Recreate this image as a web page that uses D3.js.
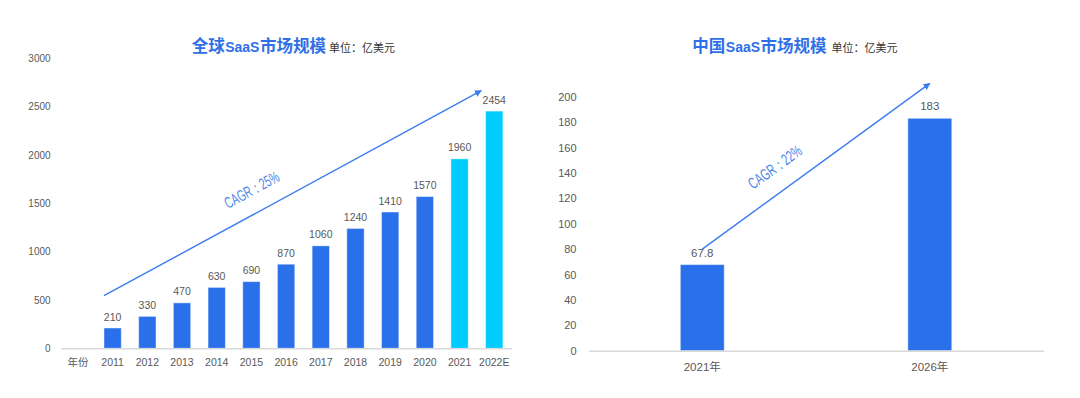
<!DOCTYPE html>
<html>
<head>
<meta charset="utf-8">
<script src="https://cdn.jsdelivr.net/npm/d3@7"></script>
<style>
  body { margin: 0; background: #fff; }
  svg { display: block; }
  .tick text { fill: #595959; }
</style>
</head>
<body>
<div id="chart-area"></div>
<script>
// global market (亿美元)
var globalCats = ["年份", "2011", "2012", "2013", "2014", "2015", "2016", "2017", "2018", "2019", "2020", "2021", "2022E"];
var globalYears = ["2011", "2012", "2013", "2014", "2015", "2016", "2017", "2018", "2019", "2020", "2021", "2022E"];
var globalValues = [210, 330, 470, 630, 690, 870, 1060, 1240, 1410, 1570, 1960, 2454];
var globalHighlight = ["2021", "2022E"];
var globalTicks = [0, 500, 1000, 1500, 2000, 2500, 3000];
var globalCagr = {label: "CAGR：25%", from: ["2011", 0, 544], to: ["2022E", -0.25, 2665]};

// china market (亿美元)
var chinaCats = ["2021年", "2026年"];
var chinaValues = [67.8, 183];
var chinaLabels = ["67.8", "183"];
var chinaTicks = [0, 20, 40, 60, 80, 100, 120, 140, 160, 180, 200];
var chinaCagr = {label: "CAGR：22%", from: ["2021年", 0.5, 80], to: ["2026年", 0.5, 210.5]};

var blue = "#2a70ea", cyan = "#00ccff", titleBlue = "#2f6fe8", arrowBlue = "#3b7cf0";
var numFont = "'Liberation Sans', 'Noto Sans CJK SC', sans-serif";
var cjkFont = "'Noto Sans CJK SC', sans-serif";

var svg = d3.select("#chart-area")
    .append("svg")
    .attr("width", 1080)
    .attr("height", 398);

var defs = svg.append("defs");
defs.append("marker")
    .attr("id", "arrow")
    .attr("viewBox", "0 0 10 10")
    .attr("refX", 9)
    .attr("refY", 5)
    .attr("markerWidth", 7)
    .attr("markerHeight", 7)
    .attr("markerUnits", "userSpaceOnUse")
    .attr("orient", "auto")
    .append("path")
    .attr("d", "M0,0L10,5L0,10Z")
    .attr("fill", arrowBlue);

// title pieces are laid out one after another
function drawTitle(x, y, parts) {
    var g = svg.append("g");
    var cx = x;
    parts.forEach(function(p) {
        var t = g.append("text")
            .attr("x", cx + (p.gap || 0))
            .attr("y", y)
            .style("font-family", p.font || cjkFont)
            .style("font-size", p.size + "px")
            .style("font-weight", p.bold ? 700 : 400)
            .attr("fill", p.color)
            .text(p.text);
        cx += (p.gap || 0) + t.node().getComputedTextLength();
    });
}

function drawCagr(x, y, c, offset) {
    var x1 = x(c.from[0]) + c.from[1] * x.bandwidth(), y1 = y(c.from[2]);
    var x2 = x(c.to[0]) + c.to[1] * x.bandwidth(), y2 = y(c.to[2]);
    svg.append("line")
        .attr("x1", x1).attr("y1", y1)
        .attr("x2", x2).attr("y2", y2)
        .attr("stroke", arrowBlue)
        .attr("stroke-width", 1.4)
        .attr("marker-end", "url(#arrow)");
    var ang = Math.atan2(y2 - y1, x2 - x1) * 180 / Math.PI;
    var mx = x1 + (x2 - x1) * offset.t, my = y1 + (y2 - y1) * offset.t;
    svg.append("g")
        .attr("transform", "translate(" + mx + "," + my + ") rotate(" + ang + ")")
        .append("text")
        .attr("y", -offset.d)
        .attr("text-anchor", "middle")
        .attr("textLength", offset.len)
        .attr("lengthAdjust", "spacingAndGlyphs")
        .style("font-family", "'Liberation Sans Narrow', 'Liberation Sans', sans-serif")
        .style("font-size", "16px")
        .attr("fill", "#4a86e8")
        .text(c.label);
}

// ---------- left: global ----------
var gx = d3.scaleBand().domain(globalCats).range([60.6, 511.6]).paddingInner(0.5).paddingOuter(0.25);
var gy = d3.scaleLinear().domain([0, 3000]).range([348.3, 58.3]);

svg.append("g")
    .attr("transform", "translate(60.6,0)")
    .call(d3.axisLeft(gy).tickValues(globalTicks).tickFormat(d3.format("d")).tickSize(0).tickPadding(10))
    .call(g => g.select(".domain").remove())
    .selectAll("text").style("font-family", numFont).style("font-size", "10px");

svg.selectAll(".gbar")
    .data(globalYears)
    .enter()
    .append("rect")
    .attr("class", "gbar")
    .attr("x", d => gx(d))
    .attr("y", (d, i) => gy(globalValues[i]))
    .attr("width", gx.bandwidth())
    .attr("height", (d, i) => gy(0) - gy(globalValues[i]))
    .attr("fill", d => globalHighlight.indexOf(d) >= 0 ? cyan : blue)
    .attr("stroke", "rgba(255,255,255,0.45)")
    .attr("stroke-width", 1);

svg.selectAll(".glabel")
    .data(globalYears)
    .enter()
    .append("text")
    .attr("class", "glabel")
    .attr("x", d => gx(d) + gx.bandwidth() / 2)
    .attr("y", (d, i) => gy(globalValues[i]) - 7.5)
    .attr("text-anchor", "middle")
    .style("font-family", numFont)
    .style("font-size", "10.5px")
    .attr("fill", "#595959")
    .text((d, i) => globalValues[i]);

svg.append("g")
    .attr("transform", "translate(0,348.3)")
    .call(d3.axisBottom(gx).tickSize(0).tickPadding(10.3))
    .call(g => g.select(".domain").attr("stroke", "#d9d9d9").attr("stroke-width", 1.5))
    .selectAll("text").style("font-family", numFont).style("font-size", "10.5px");

drawTitle(191.7, 52, [
    {text: "全球", size: 16.5, bold: true, color: titleBlue},
    {text: "SaaS", size: 14, bold: true, color: titleBlue, gap: 0.5, font: "'Liberation Sans Narrow', 'Liberation Sans', sans-serif"},
    {text: "市场规模", size: 16.5, bold: true, color: titleBlue, gap: 0.5},
    {text: "单位：亿美元", size: 11, color: "#333", gap: 3}
]);

drawCagr(gx, gy, globalCagr, {t: 0.42, d: 17, len: 60});

// ---------- right: china ----------
var cx = d3.scaleBand().domain(chinaCats).range([588.5, 1043.6]).paddingInner(0.807).paddingOuter(0.4035);
var cy = d3.scaleLinear().domain([0, 200]).range([350.7, 96.7]);

svg.append("g")
    .attr("transform", "translate(588.5,0)")
    .call(d3.axisLeft(cy).tickValues(chinaTicks).tickSize(0).tickPadding(12))
    .call(g => g.select(".domain").remove())
    .selectAll("text").style("font-family", numFont).style("font-size", "11px");

svg.selectAll(".cbar")
    .data(chinaCats)
    .enter()
    .append("rect")
    .attr("class", "cbar")
    .attr("x", d => cx(d))
    .attr("y", (d, i) => cy(chinaValues[i]))
    .attr("width", cx.bandwidth())
    .attr("height", (d, i) => cy(0) - cy(chinaValues[i]))
    .attr("fill", blue)
    .attr("stroke", "rgba(255,255,255,0.45)")
    .attr("stroke-width", 1);

svg.selectAll(".clabel")
    .data(chinaCats)
    .enter()
    .append("text")
    .attr("class", "clabel")
    .attr("x", d => cx(d) + cx.bandwidth() / 2)
    .attr("y", (d, i) => cy(chinaValues[i]) - 8)
    .attr("text-anchor", "middle")
    .style("font-family", numFont)
    .style("font-size", "11.5px")
    .attr("fill", "#595959")
    .text((d, i) => chinaLabels[i]);

svg.append("g")
    .attr("transform", "translate(0,350.7)")
    .call(d3.axisBottom(cx).tickSize(0).tickPadding(12))
    .call(g => g.select(".domain").attr("stroke", "#d9d9d9").attr("stroke-width", 1.5))
    .selectAll("text").style("font-family", numFont).style("font-size", "11.5px");

drawTitle(692.3, 52, [
    {text: "中国", size: 16.5, bold: true, color: titleBlue},
    {text: "SaaS", size: 14, bold: true, color: titleBlue, gap: 0.5, font: "'Liberation Sans Narrow', 'Liberation Sans', sans-serif"},
    {text: "市场规模", size: 16.5, bold: true, color: titleBlue, gap: 0.5},
    {text: "单位：亿美元", size: 11, color: "#333", gap: 5}
]);

drawCagr(cx, cy, chinaCagr, {t: 0.38, d: 18, len: 62});
</script>
</body>
</html>
